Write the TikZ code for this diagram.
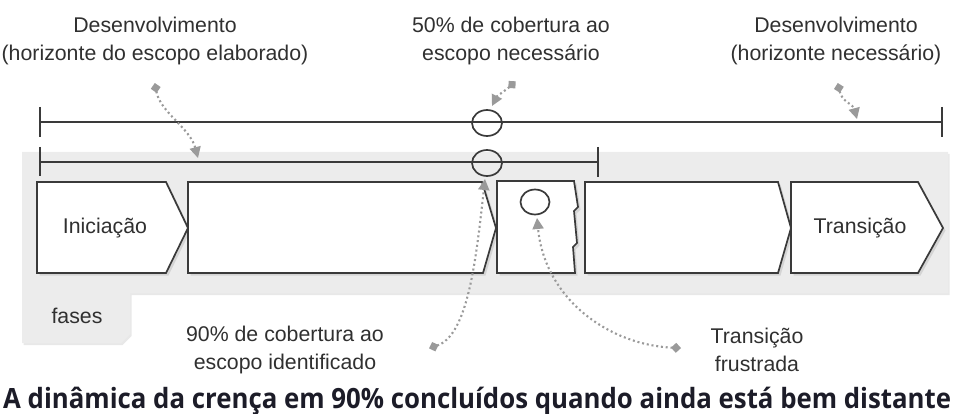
\documentclass[tikz,border=0pt]{standalone}
\usepackage{fontspec}
\setmainfont{Liberation Sans}
\newfontfamily\titlefont{Open Sans}[FakeStretch=0.925]
\usetikzlibrary{arrows.meta,shadows}
\definecolor{panel}{HTML}{ECECEC}
\definecolor{ink}{HTML}{3A3A3A}
\definecolor{txt}{HTML}{303030}
\definecolor{note}{HTML}{9A9A9A}
\definecolor{ttl}{HTML}{1C1C28}
\tikzset{
  lbl/.style={font=\fontsize{21.3}{27.5}\selectfont, text=txt, align=center, inner sep=0pt},
  phase/.style={draw=ink, line width=1.7pt, fill=white, line join=miter,
    drop shadow={opacity=0.22, shadow xshift=2.5pt, shadow yshift=-2.5pt}},
  hline/.style={draw=ink, line width=1.7pt},
  ring/.style={draw=ink, line width=1.7pt},
  callout/.style={draw=note, line width=2.1pt, dash pattern=on 2pt off 2.8pt,
    {Diamond[length=10pt,width=10pt,fill=note]}-{Triangle[length=11pt,width=11pt,fill=note]}, shorten <=-1pt}
}
\begin{document}
\begin{tikzpicture}[x=1pt,y=-1pt]
\useasboundingbox (0,0) rectangle (957,414);
% grey panel with the 'fases' tab
\fill[panel, drop shadow={opacity=0.18, shadow xshift=1.5pt, shadow yshift=-2pt}]
  (22,152) -- (948,152) -- (948,293) -- (130,293) -- (130,334) -- (121,343) -- (22,343) -- cycle;
\node[lbl] (fases) at (77,316) {fases};

% horizon lines
\coordinate (t1a) at (40,122); \coordinate (t1b) at (942,122);
\draw[hline] (t1a) -- (t1b);
\draw[hline] (40,107) -- (40,137);
\draw[hline] (942,107) -- (942,137);
\coordinate (t2a) at (40,162); \coordinate (t2b) at (598,162);
\draw[hline] (t2a) -- (t2b);
\draw[hline] (40,147) -- (40,176);
\draw[hline] (598,147) -- (598,177);
\draw[ring] (487,123) ellipse [x radius=15, y radius=13];
\draw[ring] (487,163) ellipse [x radius=15, y radius=13];

% phases
\draw[phase] (37,182) -- (166,182) -- (188,228) -- (166,273) -- (37,273) -- cycle;
\node[lbl] (ini) at (105,228) {Iniciação};
\draw[phase] (188,182) -- (482,182) -- (496,228) -- (483,273) -- (188,273) -- cycle;
\draw[phase] (497,181) -- (574,181) -- (578,207) -- (574,211) -- (577,243) -- (573,247) -- (575,273) -- (497,273) -- cycle;
\draw[ring] (535,202) ellipse [x radius=14.5, y radius=12.5];
\draw[phase] (585,182) -- (778,182) -- (791,228) -- (778,273) -- (585,273) -- cycle;
\draw[phase] (791,182) -- (918,182) -- (943,228) -- (918,273) -- (791,273) -- cycle;
\node[lbl] (tra) at (860,228) {Transição};

% labels
\node[lbl] (devA) at (155,41) {Desenvolvimento\\(horizonte do escopo elaborado)};
\node[lbl] (cob50) at (511,41) {50\% de cobertura ao\\escopo necessário};
\node[lbl] (devB) at (836,41) {Desenvolvimento\\(horizonte necessário)};
\node[lbl] (cob90) at (285,350) {90\% de cobertura ao\\escopo identificado};
\node[lbl] (frus) at (757,350) {Transição\\frustrada};

% callouts
\coordinate (s1) at (155,84);  \coordinate (e1) at (198,158);
\coordinate (s2) at (515,82);  \coordinate (e2) at (492,106);
\coordinate (s3) at (838,84);  \coordinate (e3) at (857,119);
\coordinate (s4) at (430,348); \coordinate (e4) at (485,179);
\coordinate (s5) at (680,348); \coordinate (e5) at (537,218);
\draw[callout] (s1) .. controls (160,112) and (190,128) .. (e1);
\draw[callout] (s2) .. controls (506,90) and (497,96) .. (e2);
\draw[callout] (s3) .. controls (842,102) and (853,104) .. (e3);
\draw[callout] (s4) .. controls (468,335) and (476,260) .. (e4);
\draw[callout] (s5) .. controls (610,345) and (545,300) .. (e5);

% title
\node[anchor=base west, inner sep=0pt, text=ttl, font=\titlefont\bfseries\fontsize{27.9}{32}\selectfont] (title) at (3,408)
  {A dinâmica da crença em 90\% concluídos quando ainda está bem distante d};
\end{tikzpicture}
\end{document}
